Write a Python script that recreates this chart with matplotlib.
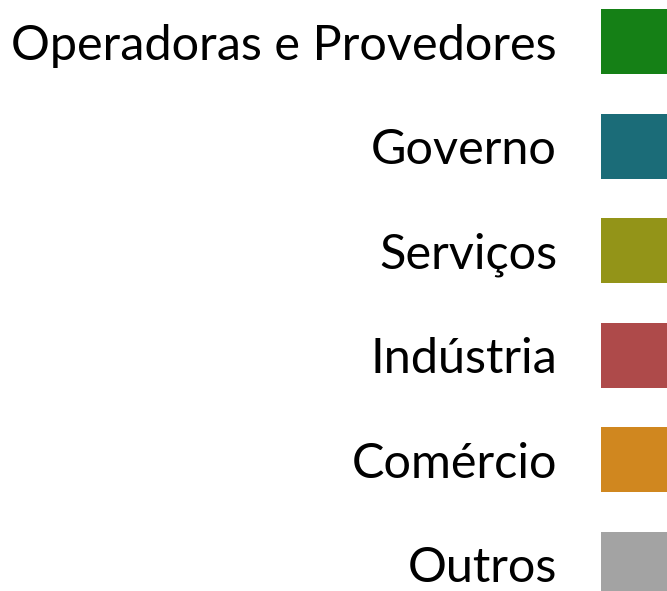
import matplotlib
matplotlib.use("Agg")
import matplotlib.pyplot as plt

categories = ["Operadoras e Provedores", "Governo", "Serviços", "Indústria", "Comércio", "Outros"]
colors = ["#158016", "#1b6c78", "#939418", "#ae4a4a", "#d0871f", "#a3a3a3"]
values = [1, 1, 1, 1, 1, 1]

W, H = 667, 591
fig = plt.figure(figsize=(W / 100, H / 100), dpi=100)
ax = fig.add_axes([0, 0, 1, 1])
ax.set_xlim(0, W)
ax.set_ylim(H, 0)
ax.axis("off")

step = 104.5
top = 9
sq = 65
for i, (cat, col, v) in enumerate(zip(categories, colors, values)):
    y0 = top + i * step
    ax.barh(y0 + sq / 2, width=66 * v, left=601, height=sq, color=col, linewidth=0)
    ax.text(557, y0 + sq / 2, cat, ha="right", va="center_baseline",
            fontsize=35, family=["Lato", "DejaVu Sans"], color="black")

fig.savefig("out.png", dpi=100)
